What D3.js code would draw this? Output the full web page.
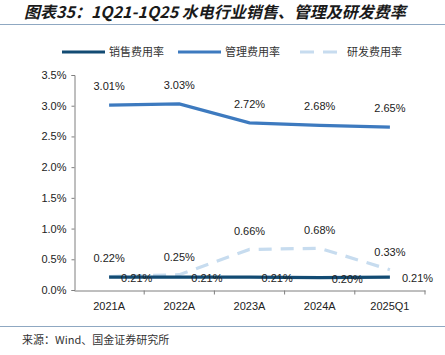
<!DOCTYPE html>
<html><head><meta charset="utf-8">
<script src="https://cdn.jsdelivr.net/npm/d3@7"></script>
<style>
body{margin:0;background:#fff;}
svg{display:block;}
</style></head>
<body>
<svg id="c" width="445" height="355"></svg>
<script>
const categories = ["2021A","2022A","2023A","2024A","2025Q1"];
const salesRate = [0.21,0.21,0.21,0.20,0.21];
const mgmtRate = [3.01,3.03,2.72,2.68,2.65];
const rdRate = [0.22,0.25,0.66,0.68,0.33];
const yTicks = [0,0.5,1.0,1.5,2.0,2.5,3.0,3.5];
const seriesNames = ["销售费用率","管理费用率","研发费用率"];

const svg = d3.select("#c");
const font = "'Noto Sans CJK SC', sans-serif";
const numFont = "'Liberation Sans', Arial, sans-serif";

// title
svg.append("text").attr("x",24).attr("y",18)
  .attr("font-family",font).attr("font-size",16).attr("font-weight","bold")
  .attr("font-style","italic").attr("fill","#1a1a1a")
  .text("图表35：1Q21-1Q25 水电行业销售、管理及研发费率");
svg.append("line").attr("x1",0).attr("x2",445).attr("y1",24.5).attr("y2",24.5)
  .attr("stroke","#8fa8c2").attr("stroke-width",1.2);

const x = d3.scaleBand().domain(categories).range([74,425]);
const y = d3.scaleLinear().domain([0,3.5]).range([290,75]);
const cx = d => x(d) + x.bandwidth()/2;

// axes
const yAxis = d3.axisLeft(y).tickValues(yTicks).tickSize(3).tickFormat(d=>d3.format(".1f")(d)+"%");
const gy = svg.append("g").attr("transform","translate(74.5,0)").call(yAxis);
gy.selectAll("path,line").attr("stroke","#7f7f7f");
gy.selectAll("text").attr("font-family",numFont).attr("font-size",11).attr("fill","#222").attr("x",-8);

const xAxis = d3.axisBottom(x).tickSize(4).tickSizeOuter(0);
const gx = svg.append("g").attr("transform","translate(0,290.5)").call(xAxis);
gx.selectAll("path,line").attr("stroke","#7f7f7f");
gx.selectAll(".tick line").attr("transform",`translate(${x.bandwidth()/2},0)`);
gx.selectAll("text").attr("font-family",numFont).attr("font-size",11).attr("fill","#222").attr("dy","1.1em");

const line = d3.line().x((d,i)=>cx(categories[i])).y(d=>y(d));

const colors = ["#124b73","#3d7abf","#c7dcef"];

svg.append("path").datum(rdRate).attr("d",line).attr("fill","none")
  .attr("stroke",colors[2]).attr("stroke-width",3.2).attr("stroke-dasharray","13,9");
svg.append("path").datum(mgmtRate).attr("d",line).attr("fill","none")
  .attr("stroke",colors[1]).attr("stroke-width",3.2);
svg.append("path").datum(salesRate).attr("d",line).attr("fill","none")
  .attr("stroke",colors[0]).attr("stroke-width",3.2);

const fmt = d=>d.toFixed(2)+"%";
function labels(data, dx, dy, anchor){
  svg.append("g").selectAll("text").data(data).join("text")
    .attr("x",(d,i)=>cx(categories[i])+dx).attr("y",d=>y(d)+dy)
    .attr("text-anchor",anchor).attr("font-family",numFont).attr("font-size",11).attr("fill","#222")
    .text(fmt);
}
labels(mgmtRate,0,-15,"middle");
labels(rdRate,0,-14,"middle");
labels(salesRate,12,5,"start");

// legend
const legendItems = [
  {name:seriesNames[0], x:62, dash:null, c:colors[0]},
  {name:seriesNames[1], x:178, dash:null, c:colors[1]},
  {name:seriesNames[2], x:300, dash:"14,9", c:colors[2]}
];
legendItems.forEach(it=>{
  svg.append("line").attr("x1",it.x).attr("x2",it.x+43).attr("y1",52).attr("y2",52)
    .attr("stroke",it.c).attr("stroke-width",3.2).attr("stroke-dasharray",it.dash);
  svg.append("text").attr("x",it.x+47).attr("y",56).attr("font-family",font)
    .attr("font-size",11).attr("fill","#333").text(it.name);
});

// footer
svg.append("line").attr("x1",0).attr("x2",445).attr("y1",326.5).attr("y2",326.5)
  .attr("stroke","#8fa8c2").attr("stroke-width",1);
svg.append("text").attr("x",22).attr("y",344).attr("font-family",font)
  .attr("font-size",11).attr("fill","#333").text("来源：Wind、国金证券研究所");
</script>
</body></html>
